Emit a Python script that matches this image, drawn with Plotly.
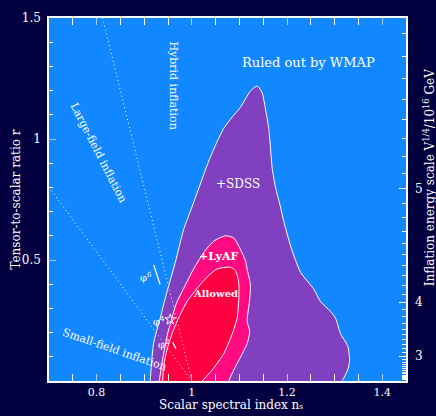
import numpy as np
import plotly.graph_objects as go

# ---------------- data ----------------
SDSS_NS = [0.9126, 0.9196, 0.9337, 0.9478, 0.9653, 0.9827, 1.0004, 1.0179, 1.0354, 1.0531,
           1.0669, 1.0846, 1.1021, 1.1232, 1.1373, 1.1478, 1.1547, 1.1617, 1.1653, 1.1688,
           1.1758, 1.1863, 1.1933, 1.2074, 1.2284, 1.2558, 1.2705, 1.2916, 1.3021, 1.3126,
           1.3274, 1.3316, 1.3274, 1.3168, 1.3150]
SDSS_R = [0.000, 0.154, 0.260, 0.368, 0.490, 0.625, 0.719, 0.814, 0.908, 0.989,
          1.043, 1.090, 1.131, 1.198, 1.219, 1.191, 1.124, 1.043, 0.962, 0.881,
          0.800, 0.719, 0.659, 0.559, 0.449, 0.381, 0.328, 0.287, 0.259, 0.194,
          0.146, 0.085, 0.045, 0.004, 0.000]

LYA_NS = [0.9316, 0.9400, 0.9505, 0.9547, 0.9674, 0.9827, 1.0038, 1.0248, 1.0459, 1.0705,
          1.0880, 1.1021, 1.1126, 1.1162, 1.1232, 1.1211, 1.1162, 1.1217, 1.1162, 1.1021,
          1.0880, 1.0775]
LYA_R = [0.000, 0.105, 0.206, 0.235, 0.320, 0.382, 0.463, 0.530, 0.578, 0.600,
         0.591, 0.544, 0.497, 0.463, 0.396, 0.328, 0.247, 0.206, 0.154, 0.098,
         0.045, 0.000]

ALW_NS = [0.9389, 0.9406, 0.9474, 0.9583, 0.9722, 0.9899, 1.0109, 1.0320, 1.0531, 1.0811,
          1.0916, 1.0985, 1.0990, 1.0952, 1.0846, 1.0669, 1.0425, 1.0215]
ALW_R = [0.000, 0.057, 0.126, 0.194, 0.260, 0.328, 0.382, 0.429, 0.463, 0.470,
         0.456, 0.409, 0.350, 0.260, 0.193, 0.112, 0.045, 0.000]

# model-class boundaries (dotted)
HYB_NS = [0.8125, 1.0]      # r = 8(1-n_s)
HYB_R = [1.5, 0.0]
SMALL_NS = [0.70, 1.0]      # r = 8/3 (1-n_s)
SMALL_R = [0.80, 0.0]

# phi^p predictions
PHI6_NS = [0.920, 0.9333]
PHI6_R = [0.480, 0.400]
PHI2_NS = [0.960, 0.9667]
PHI2_R = [0.160, 0.1333]
PHI4_NS = [0.9547]
PHI4_R = [0.254]

# right axis: V^{1/4}/10^16 GeV = C * r^{1/4}
V_C = 5.297
V_MAJOR = [3, 4, 5]
V_MINOR = [round(v, 1) for v in np.arange(1.0, 5.85, 0.1) if round(v, 1) not in (3.0, 4.0, 5.0)]

X_RANGE = [0.7, 1.45]
Y_RANGE = [0.0, 1.5]

# ---------------- styling ----------------
BG = "#02003f"
BLUE = "#1188ff"
PURPLE = "#8040c0"
MAGENTA = "#ff0a80"
RED = "#ff0040"
SERIF = "DejaVu Serif"

fig = go.Figure()

def region(xs, ys, color):
    fig.add_trace(go.Scatter(x=xs, y=ys, mode="lines", fill="toself", fillcolor=color,
                             line=dict(color="white", width=1, shape="spline", smoothing=0.6),
                             hoverinfo="skip", showlegend=False))

region(SDSS_NS, SDSS_R, PURPLE)
region(LYA_NS, LYA_R, MAGENTA)
region(ALW_NS, ALW_R, RED)

for xs, ys in [(HYB_NS, HYB_R), (SMALL_NS, SMALL_R)]:
    fig.add_trace(go.Scatter(x=xs, y=ys, mode="lines",
                             line=dict(color="white", width=1, dash="1px,3px"),
                             hoverinfo="skip", showlegend=False))

for xs, ys in [(PHI6_NS, PHI6_R), (PHI2_NS, PHI2_R)]:
    fig.add_trace(go.Scatter(x=xs, y=ys, mode="lines", line=dict(color="white", width=1.3),
                             hoverinfo="skip", showlegend=False))

fig.add_trace(go.Scatter(x=PHI4_NS, y=PHI4_R, mode="markers",
                         marker=dict(symbol="star-open", size=8, color="white", line=dict(width=1, color="white")),
                         hoverinfo="skip", showlegend=False))

# dummy trace so the right axis is drawn
fig.add_trace(go.Scatter(x=[1.0], y=[0.5], yaxis="y2", mode="markers",
                         marker=dict(opacity=0), hoverinfo="skip", showlegend=False))

def r_of_v(v):
    return float((v / V_C) ** 4)

ann = []
def label(text, x, y, size, angle=0, bold=False, font=SERIF):
    if bold:
        text = "<b>" + text + "</b>"
    ann.append(dict(text=text, x=x, y=y, xref="x", yref="y", showarrow=False,
                    textangle=angle, font=dict(family=font, size=size, color="white"),
                    xanchor="center", yanchor="middle"))

label("Ruled out by WMAP", 1.2453, 1.316, 13)
label("+SDSS", 1.0979, 0.814, 12)
label("+LyAF", 1.0558, 0.514, 11, bold=True)
label("Allowed", 1.0495, 0.360, 10, bold=True)
label("Hybrid inflation", 0.9617, 1.223, 11, angle=90)
label("Large-field inflation", 0.8032, 0.943, 11, angle=63)
label("Small-field inflation", 0.8368, 0.130, 11, angle=19)
label("φ<sup>6</sup>", 0.9042, 0.429, 10)
label("φ<sup>4</sup>", 0.9301, 0.247, 10)
label("φ<sup>2</sup>", 0.9406, 0.153, 10)

# right-axis tick labels (energy scale)
for v in V_MAJOR:
    ann.append(dict(text=str(v), xref="paper", yref="y", x=1.0, y=r_of_v(v), xshift=7,
                    showarrow=False, xanchor="left", yanchor="middle",
                    font=dict(family=SERIF, size=12, color="white")))

# axis titles
ann.append(dict(text="Scalar spectral index nₛ", xref="paper", yref="paper",
                x=0.51, y=-0.0919, showarrow=False, xanchor="center", yanchor="bottom",
                font=dict(family=SERIF, size=12, color="white")))
ann.append(dict(text="Tensor-to-scalar ratio r", xref="paper", yref="paper",
                x=-0.095, y=0.5, showarrow=False, textangle=-90, xanchor="center", yanchor="middle",
                font=dict(family=SERIF, size=12, color="white")))
ann.append(dict(text="Inflation energy scale V<sup>1/4</sup>/10<sup>16</sup> GeV", xref="paper", yref="paper",
                x=1.063, y=0.56, showarrow=False, textangle=-90, xanchor="center", yanchor="middle",
                font=dict(family=SERIF, size=12, color="white")))

tickfont = dict(family=SERIF, size=12, color="white")
xtickfont = dict(family=SERIF, size=11, color="white")

fig.update_layout(
    width=436, height=416,
    margin=dict(l=49, r=30, t=11, b=35, pad=0),
    paper_bgcolor=BG, plot_bgcolor=BLUE,
    showlegend=False,
    annotations=ann,
    xaxis=dict(range=X_RANGE, tickvals=[0.8, 1.0, 1.2, 1.4], ticktext=["0.8", "1", "1.2", "1.4"],
               ticks="inside", ticklen=7, tickwidth=1, tickcolor="#9fd0ff",
               minor=dict(dtick=0.05, tick0=0.7, ticks="inside", ticklen=4, tickcolor="white", showgrid=False),
               showline=True, linecolor="white", linewidth=1.5, mirror="allticks",
               showgrid=False, zeroline=False, tickfont=xtickfont, ticklabelstandoff=0),
    yaxis=dict(range=Y_RANGE, tickvals=[0.5, 1.0, 1.5], ticktext=["0.5", "1", "1.5"],
               ticks="inside", ticklen=7, tickwidth=1, tickcolor="#9fd0ff",
               minor=dict(dtick=0.1, tick0=0, ticks="inside", ticklen=4, tickcolor="white", showgrid=False),
               showline=True, linecolor="white", linewidth=1.5, mirror=True,
               showgrid=False, zeroline=False, tickfont=tickfont, ticklabelstandoff=4),
    yaxis2=dict(range=Y_RANGE, overlaying="y", side="right",
                tickmode="array",
                tickvals=[r_of_v(v) for v in V_MAJOR], ticktext=["", "", ""],
                ticks="inside", ticklen=7, tickwidth=1, tickcolor="white",
                minor=dict(tickmode="array", tickvals=[r_of_v(v) for v in V_MINOR], ticks="inside", ticklen=4,
                           tickcolor="white", showgrid=False),
                showline=False, showgrid=False, zeroline=False, showticklabels=False),
)

fig.write_html("out.html")
